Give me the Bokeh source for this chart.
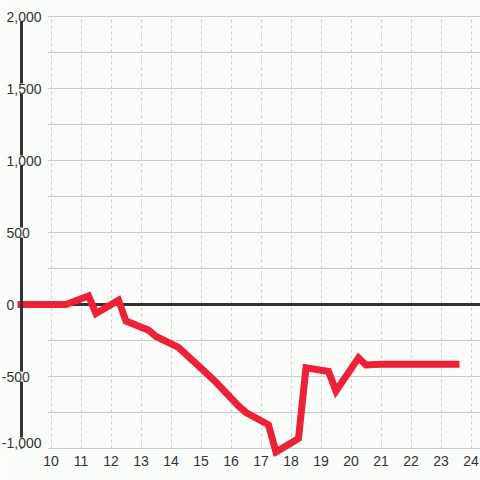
from bokeh.plotting import figure
from bokeh.models import Range1d, FixedTicker, Label, Grid
from bokeh.embed import file_html
from bokeh.resources import INLINE

# ---- data ----
hours = [9.0, 10.5, 11.25, 11.5, 12.25, 12.5, 13.25, 13.5, 14.25, 15.25, 15.5,
         16.25, 16.5, 17.25, 17.5, 18.25, 18.5, 19.25, 19.5, 20.25, 20.5, 21.0, 23.5]
values = [0, 0, 60, -62, 30, -115, -178, -222, -298, -490, -540,
          -705, -750, -835, -1025, -930, -440, -465, -600, -370, -420, -415, -415]
x_ticks = [10, 11, 12, 13, 14, 15, 16, 17, 18, 19, 20, 21, 22, 23, 24]
y_grid_ticks = [-1000, -750, -500, -250, 250, 500, 750, 1000, 1250, 1500, 1750, 2000]
zero_ticks = [0]
y_label_values = [-1000, -500, 0, 500, 1000, 1500, 2000]
y_label_texts = ["-1,000", "-500", "0", "500", "1,000", "1,500", "2,000"]

BG = "#fbfdfb"
RED = "#ed2237"
DARK = "#333333"
GRID = "#cccccc"
FONT = "Liberation Sans"

AXIS_X = 9.0
X_START = AXIS_X - 20.5 / 30.0
X_END = X_START + 480 / 30.0
Y_END = 304 / 0.144
Y_START = (304 - 456) / 0.144
Y_MIN_LABEL = min(y_label_values)

p = figure(width=480, height=480, output_backend="svg", toolbar_location=None,
           x_range=Range1d(X_START, X_END), y_range=Range1d(Y_START, Y_END),
           min_border_left=0, min_border_right=0, min_border_top=0, min_border_bottom=24)
p.background_fill_color = BG
p.border_fill_color = BG
p.outline_line_color = None

# x axis
p.xaxis.ticker = FixedTicker(ticks=x_ticks)
p.xaxis.axis_line_color = None
p.xaxis.major_tick_line_color = None
p.xaxis.minor_tick_line_color = None
p.xaxis.major_label_standoff = -7
p.xaxis.major_label_text_font_size = "14px"
p.xaxis.major_label_text_color = DARK
p.xaxis.major_label_text_font = FONT

# y axis (line only, placed inside the frame)
p.yaxis.ticker = FixedTicker(ticks=[])
p.yaxis.major_tick_line_color = None
p.yaxis.minor_tick_line_color = None
p.yaxis.major_label_standoff = 0
p.yaxis.axis_line_color = DARK
p.yaxis.axis_line_width = 3
p.yaxis.bounds = (-1000, 2000)
p.yaxis.fixed_location = AXIS_X

# grids
p.xgrid.ticker = FixedTicker(ticks=x_ticks)
p.xgrid.grid_line_color = GRID
p.xgrid.grid_line_dash = "3 3"
p.xgrid.cross_bounds = (-1000, 2000)
p.ygrid.ticker = FixedTicker(ticks=y_grid_ticks)
p.ygrid.grid_line_color = GRID
p.ygrid.cross_bounds = (9.88, X_END)

zero_grid = Grid(dimension=1, ticker=FixedTicker(ticks=zero_ticks),
                 grid_line_color=DARK, grid_line_width=3,
                 cross_bounds=(AXIS_X, X_END))
p.add_layout(zero_grid)

p.line(hours, values, line_color=RED, line_width=7, line_join="miter", line_cap="square")

for v, t in zip(y_label_values, y_label_texts):
    off = 1.3 if t.startswith("-") else 6.0
    yoff = 6 if v == Y_MIN_LABEL else 0
    p.add_layout(Label(x=X_START, y=v, text=t, x_offset=off, y_offset=yoff,
                       text_align="left", text_baseline="middle",
                       text_font_size="14px", text_color=DARK, text_font=FONT,
                       background_fill_color=BG))

open("out.html", "w").write(file_html(p, INLINE))
